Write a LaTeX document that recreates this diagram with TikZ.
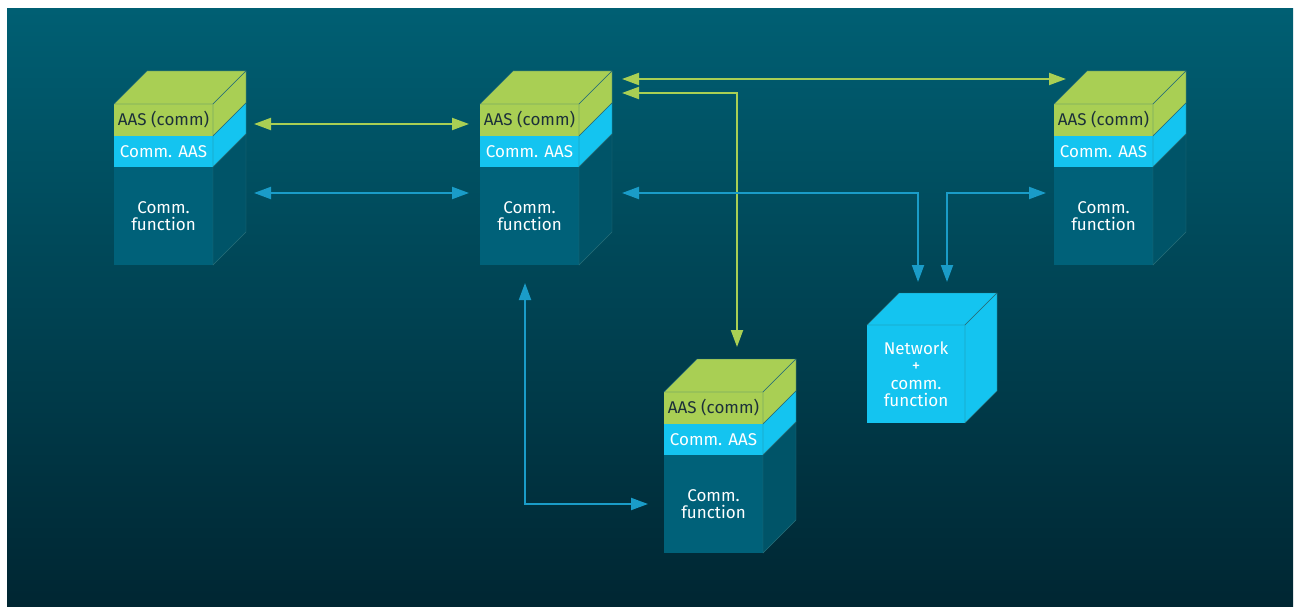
\documentclass[tikz,border=0pt]{standalone}
\usepackage{fontspec}
\setmainfont{Fira Sans}
\usetikzlibrary{arrows.meta, positioning}

\definecolor{aasgreen}{RGB}{169,207,84}
\definecolor{commcyan}{RGB}{20,196,240}
\definecolor{functeal}{RGB}{0,97,121}
\definecolor{sideteal}{RGB}{0,84,104}
\definecolor{edgeteal}{RGB}{40,110,120}
\definecolor{linkblue}{RGB}{26,156,200}
\definecolor{inkdark}{RGB}{28,48,58}
\definecolor{bgtop}{RGB}{0,95,115}
\definecolor{bgbottom}{RGB}{0,38,50}

\tikzstyle{band} = [rectangle, minimum width=99pt, inner sep=0pt, outer sep=0pt, text centered, font=\fontsize{17}{17.5}\selectfont]
\tikzstyle{aas} = [band, minimum height=32pt, fill=aasgreen, text=inkdark]
\tikzstyle{comm} = [band, minimum height=31pt, fill=commcyan, text=white]
\tikzstyle{func} = [band, minimum height=98pt, fill=functeal, text=white, align=center]
\tikzstyle{netbox} = [band, minimum width=98pt, minimum height=98pt, fill=commcyan, text=white, align=center]
\tikzstyle{greenarrow} = [line width=2pt, <->, >={Triangle[length=17pt,width=12pt]}, draw=aasgreen]
\tikzstyle{bluearrow} = [line width=2pt, <->, >={Triangle[length=17pt,width=12pt]}, draw=linkblue]

\begin{document}
\begin{tikzpicture}[x=1pt, y=1pt]

% Background
\fill[white] (0,0) rectangle (1300,606);
\shade[top color=bgtop, bottom color=bgbottom] (7,0) rectangle (1293,597);
\useasboundingbox (0,0) rectangle (1300,606);

% Nodes
\node (aas1) [aas] at (163.5,486) {AAS (comm)};
\node (comm1) [comm, below=0pt of aas1] {Comm. AAS};
\node (func1) [func, below=0pt of comm1] {Comm.\\function};

\node (aas2) [aas] at (529.5,486) {AAS (comm)};
\node (comm2) [comm, below=0pt of aas2] {Comm. AAS};
\node (func2) [func, below=0pt of comm2] {Comm.\\function};

\node (aas3) [aas] at (1103.5,486) {AAS (comm)};
\node (comm3) [comm, below=0pt of aas3] {Comm. AAS};
\node (func3) [func, below=0pt of comm3] {Comm.\\function};

\node (aas4) [aas] at (713.5,198) {AAS (comm)};
\node (comm4) [comm, below=0pt of aas4] {Comm. AAS};
\node (func4) [func, below=0pt of comm4] {Comm.\\function};

\node (net) [netbox] at (916,232) {Network\\+\\comm.\\function};

% Faces
\foreach \b in {1,2,3,4} {
  \draw[fill=aasgreen, draw=edgeteal, line width=0.4pt] (aas\b.north west) -- ++(33,33) -- ([shift={(33,33)}]aas\b.north east) -- (aas\b.north east) -- cycle;
  \draw[fill=aasgreen, draw=edgeteal, line width=0.4pt] (aas\b.north east) -- ++(33,33) -- ([shift={(33,33)}]aas\b.south east) -- (aas\b.south east) -- cycle;
  \draw[fill=commcyan, draw=edgeteal, line width=0.4pt] (comm\b.north east) -- ++(33,33) -- ([shift={(33,33)}]comm\b.south east) -- (comm\b.south east) -- cycle;
  \draw[fill=sideteal, draw=edgeteal, line width=0.4pt] (func\b.north east) -- ++(33,33) -- ([shift={(33,33)}]func\b.south east) -- (func\b.south east) -- cycle;
}
\draw[fill=commcyan, draw=edgeteal, line width=0.4pt] (net.north west) -- ++(32,32) -- ([shift={(32,32)}]net.north east) -- (net.north east) -- cycle;
\draw[fill=commcyan, draw=edgeteal, line width=0.4pt] (net.north east) -- ++(32,32) -- ([shift={(32,32)}]net.south east) -- (net.south east) -- cycle;

% Arrows
\draw [greenarrow] ([xshift=41pt,yshift=-4pt]aas1.east) -- ([xshift=-11pt,yshift=-4pt]aas2.west);
\draw [bluearrow] ([xshift=41pt,yshift=23pt]func1.east) -- ([xshift=-11pt,yshift=23pt]func2.west);
\draw [greenarrow] ([xshift=43pt,yshift=41pt]aas2.east) -- ([xshift=12pt,yshift=41pt]aas3.west);
\draw [greenarrow] ([xshift=43pt,yshift=27pt]aas2.east) -| ([xshift=23.5pt,yshift=45pt]aas4.north);
\draw [bluearrow] ([xshift=43pt,yshift=23pt]func2.east) -| ([xshift=2pt,yshift=43pt]net.north);
\draw [bluearrow] ([xshift=-8pt,yshift=23pt]func3.west) -| ([xshift=31pt,yshift=43pt]net.north);
\draw [bluearrow] ([xshift=-4.5pt,yshift=-18pt]func2.south) |- ([xshift=-16pt]func4.west);

\end{tikzpicture}
\end{document}
